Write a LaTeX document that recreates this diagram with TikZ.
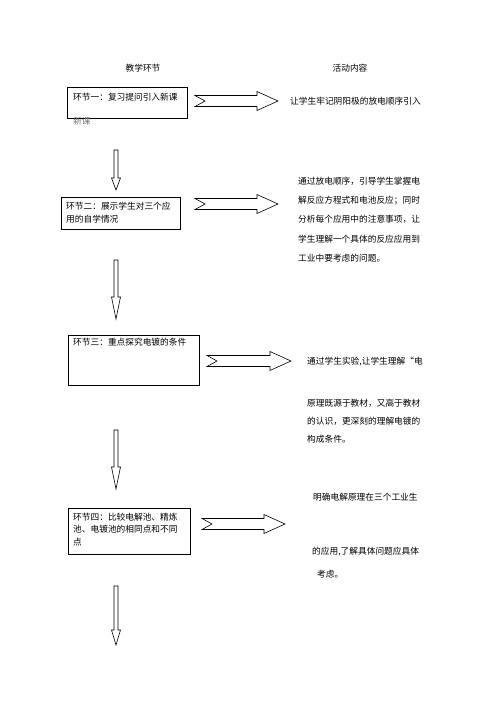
\documentclass[tikz,border=0pt]{standalone}
\usepackage{fontspec}
\newfontfamily\cjk{Noto Sans CJK SC}
\usetikzlibrary{positioning}
\tikzset{
  headtext/.style={font=\cjk\fontsize{8.7}{12}\selectfont, inner sep=0pt},
  stagebox/.style={draw, line width=1.1pt, inner sep=0pt, anchor=north west},
  stagetext/.style={font=\cjk\fontsize{8.7}{13}\selectfont, inner sep=0pt, anchor=west, align=left},
  acttext/.style={font=\cjk\fontsize{8.7}{18}\selectfont, inner sep=0pt, anchor=west, align=left},
  blockline/.style={draw, line width=0.6pt, fill=white},
}
% block arrows: start point, length (, head length)
\newcommand{\rightblock}[2]{%
  \draw[blockline, shift={(#1)}] (0,-5.5) -- (#2-21,-5.5) -- (#2-21,-9.5) -- (#2,0)
    -- (#2-21,9.5) -- (#2-21,5.5) -- (0,5.5) -- (10,0) -- cycle;}
\newcommand{\downblock}[3]{%
  \draw[blockline, shift={(#1)}] (-2,0) -- (2,0) -- (2,#2-#3) -- (4.5,#2-#3) -- (0,#2)
    -- (-4.5,#2-#3) -- (-2,#2-#3) -- cycle;}
\begin{document}
\begin{tikzpicture}[x=1pt,y=-1pt]
  \useasboundingbox (0,0) rectangle (496,702);
  % headings
  \node[headtext] (hleft) at (143,68) {教学环节};
  \node[headtext] (hright) at (350,68) {活动内容};
  % stages
  \node[stagebox, minimum width=120pt, minimum height=31pt] (s1) at (67,87) {};
  \node[stagebox, minimum width=119pt, minimum height=32pt] (s2) at (61,197) {};
  \node[stagebox, minimum width=131pt, minimum height=50pt] (s3) at (68,335) {};
  \node[stagebox, minimum width=122pt, minimum height=46pt] (s4) at (68,508) {};
  \node[stagetext] (s1t) at (73,97) {环节一：复习提问引入新课};
  \node[stagetext, text=black!55] (s1x) at (73,121) {新课};
  \node[stagetext] (s2t) at (66,212.5) {环节二：展示学生对三个应\\用的自学情况};
  \node[stagetext] (s3t) at (73,342) {环节三：重点探究电镀的条件};
  \node[stagetext, font=\cjk\fontsize{8.7}{12.5}\selectfont] (s4t) at (73,529.5)
    {环节四：比较电解池、精炼\\池、电镀池的相同点和不同\\点};
  % activities
  \node[acttext] (a1) at (290,101) {让学生牢记阴阳极的放电顺序引入};
  \node[acttext, font=\cjk\fontsize{8.7}{19.25}\selectfont] (a2) at (298,219.5)
    {通过放电顺序，引导学生掌握电\\解反应方程式和电池反应；同时\\分析每个应用中的注意事项，让\\学生理解一个具体的反应应用到\\工业中要考虑的问题。};
  \node[acttext] (a3) at (307,362) {通过学生实验,让学生理解“电};
  \node[acttext] (a3b) at (307,421) {原理既源于教材，又高于教材\\的认识，更深刻的理解电镀的\\构成条件。};
  \node[acttext] (a4) at (313,497) {明确电解原理在三个工业生};
  \node[acttext] (a4b) at (312,552) {的应用,了解具体问题应具体};
  \node[acttext] (a4c) at (317,574) {考虑。};
  % arrows
  \coordinate (r1) at (195,101);
  \coordinate (r2) at (195,204);
  \coordinate (r3) at (207,361);
  \coordinate (r4) at (202,524);
  \rightblock{r1}{83}
  \rightblock{r2}{83}
  \rightblock{r3}{84}
  \rightblock{r4}{83}
  \coordinate (d1) at (116,150);
  \coordinate (d2) at (116,260);
  \coordinate (d3) at (116,430);
  \coordinate (d4) at (116,586);
  \downblock{d1}{40}{12}
  \downblock{d2}{59}{22}
  \downblock{d3}{59}{22}
  \downblock{d4}{59}{15}
\end{tikzpicture}
\end{document}
